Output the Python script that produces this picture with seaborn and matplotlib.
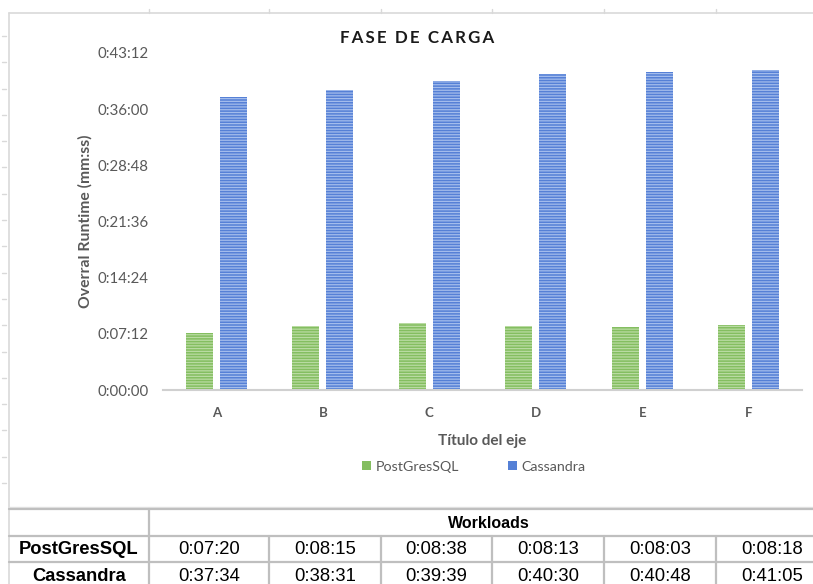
import matplotlib
matplotlib.use("Agg")
import matplotlib.pyplot as plt
import seaborn as sns
import pandas as pd
import numpy as np
from matplotlib.lines import Line2D
from matplotlib.patches import Patch

# ---------------- data ----------------
workloads = ["A", "B", "C", "D", "E", "F"]
series_names = ["PostGresSQL", "Cassandra"]
postgres_secs = [440, 495, 518, 493, 483, 498]        # 0:07:20 ... 0:08:18
cassandra_secs = [2254, 2311, 2379, 2430, 2448, 2465]  # 0:37:34 ... 0:41:05
ytick_secs = [0, 432, 864, 1296, 1728, 2160, 2592]

title = "FASE DE CARGA"
ylabel = "Overral Runtime (mm:ss)"
xlabel = "Título del eje"
table_header = "Workloads"


def fmt(s):
    s = int(round(s))
    return f"{s // 3600}:{(s % 3600) // 60:02d}:{s % 60:02d}"


df = pd.DataFrame({
    "workload": workloads * 2,
    "serie": [series_names[0]] * len(workloads) + [series_names[1]] * len(workloads),
    "secs": postgres_secs + cassandra_secs,
})

sns.set_theme(style="white")
plt.rcParams["font.family"] = ["Lato", "DejaVu Sans"]
plt.rcParams["hatch.linewidth"] = 0.9

W, H = 813, 584
fig = plt.figure(figsize=(W / 100, H / 100), dpi=100)
fig.patch.set_facecolor("white")

# overlay in pixel coordinates (frame + table)
ov = fig.add_axes([0, 0, 1, 1], zorder=0)
ov.set_xlim(0, W)
ov.set_ylim(H, 0)
ov.axis("off")

# chart axes
x0, x1 = 163, 802
yb, yt = 390, 53
ax = fig.add_axes([x0 / W, (H - yb) / H, (x1 - x0) / W, (yb - yt) / H], zorder=2)
ax.patch.set_alpha(0)

face = {"PostGresSQL": "#84BE60", "Cassandra": "#5580D6"}
hatchc = {"PostGresSQL": "#B9DBA2", "Cassandra": "#A3BCEC"}

sns.barplot(data=df, x="workload", y="secs", hue="serie", order=workloads,
            hue_order=series_names, palette=face, width=0.64, gap=0.2,
            legend=False, ax=ax, saturation=1)

for bar_container, name in zip(ax.containers, series_names):
    for p in bar_container:
        p.set_hatch("------")
        p.set_edgecolor(hatchc[name])
        p.set_linewidth(0)

ax.set_xlim(-0.5, len(workloads) - 0.5)
ax.set_ylim(ytick_secs[0], ytick_secs[-1])
ax.set_yticks(ytick_secs)
ax.set_yticklabels([fmt(s) for s in ytick_secs])
for s in ["top", "right", "left"]:
    ax.spines[s].set_visible(False)
ax.spines["bottom"].set_color("#D0D0D0")
ax.spines["bottom"].set_linewidth(1.5)
ax.tick_params(axis="both", length=0, colors="#595959")
ax.tick_params(axis="y", labelsize=10.8, pad=10.5)
ax.tick_params(axis="x", labelsize=9.5, pad=12)
for t in ax.get_xticklabels():
    t.set_fontweight("bold")
ax.set_xlabel(xlabel, fontsize=11, fontweight="bold", color="#595959", labelpad=11)
ax.set_ylabel(ylabel, fontsize=11.3, fontweight="bold", color="#595959", labelpad=3)

# title with letter spacing
fig.text(417 / W, 1 - 38 / H, "\u2009".join(list(title)).replace("\u2009 \u2009", "  "),
         ha="center", va="center", fontsize=12.2, fontweight="bold", color="#1a1a1a",
         family=["Lato", "DejaVu Sans"])

# legend
handles = [Patch(facecolor=face[n], edgecolor="none") for n in series_names]
fig.legend(handles, series_names, loc="center", bbox_to_anchor=(474 / W, 1 - 467 / H),
           ncol=2, frameon=False, fontsize=10.3, handlelength=0.6, handleheight=0.6,
           handletextpad=0.35, columnspacing=3.4, labelcolor="#595959")

# chart frame and spreadsheet grid marks
gc = "#D9D9D9"
ov.add_line(Line2D([9, W], [13, 13], color=gc, lw=1.2))
ov.add_line(Line2D([9, 9], [13, H], color=gc, lw=1.2))
ov.add_line(Line2D([9, W], [507, 507], color="#E3E3E3", lw=1.0))
for xx in [149, 269, 381, 492, 604, 716]:
    ov.add_line(Line2D([xx, xx], [9, 13], color=gc, lw=1.0))
for yy in np.linspace(36, 483, 18):
    ov.add_line(Line2D([2, 6], [yy, yy], color=gc, lw=1.0))

# table
tc = "#BFBFBF"
col_edges = [149, 269, 381, 492, 604, 716, 828]
row_edges = [509, 536, 562, 589]
for yy in row_edges[:-1]:
    ov.add_line(Line2D([9, W], [yy, yy], color=tc, lw=1.6))
ov.add_line(Line2D([149, 149], [509, H], color=tc, lw=1.6))
for xx in col_edges[1:-1]:
    ov.add_line(Line2D([xx, xx], [536, H], color=tc, lw=1.6))

ov.text((149 + 828) / 2, (509 + 536) / 2 + 1, table_header, ha="center", va="center",
        fontsize=11.5, fontweight="bold", family="Liberation Sans", color="#000000")
for r, (name, vals) in enumerate(zip(series_names, [postgres_secs, cassandra_secs])):
    yc = (row_edges[r + 1] + row_edges[r + 2]) / 2 + 1
    ov.text((9 + 149) / 2, yc, name, ha="center", va="center", fontsize=13.2,
            fontweight="bold", family="Liberation Sans", color="#000000")
    for c, v in enumerate(vals):
        ov.text((col_edges[c] + col_edges[c + 1]) / 2, yc, fmt(v), ha="center",
                va="center", fontsize=13.3, family="Liberation Sans", color="#000000")

fig.savefig("out.png", dpi=100)
